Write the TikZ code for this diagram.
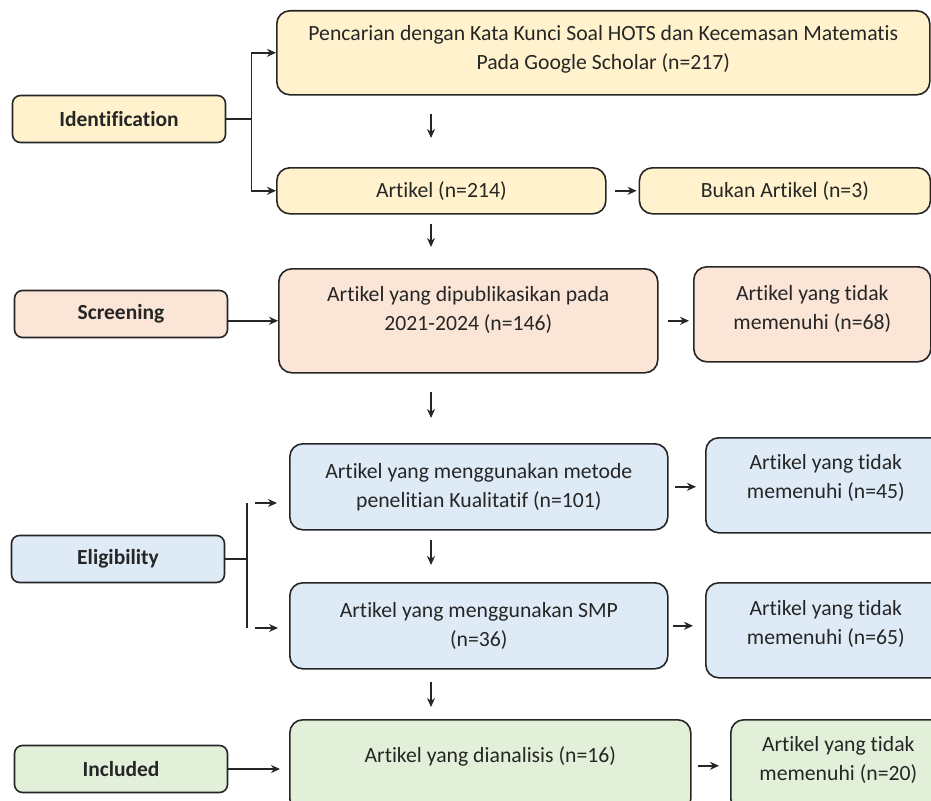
\documentclass[tikz,border=0pt]{standalone}
\usepackage{fontspec}
\setmainfont{Carlito}[Ligatures={NoCommon,NoRare}]
\usetikzlibrary{positioning,arrows.meta,calc}
\definecolor{edgegray}{HTML}{262626}
\definecolor{idyellow}{HTML}{FFF2CC}
\definecolor{scpeach}{HTML}{FBE5D6}
\definecolor{elblue}{HTML}{DEEBF7}
\definecolor{ingreen}{HTML}{E2F0D9}

\begin{document}
\begin{tikzpicture}
[
  x=1pt, y=-1pt,
  every node/.style={font=\fontsize{21.7}{29}\selectfont, text=edgegray},
  stage/.style={draw=edgegray, line width=1.6pt, rounded corners=8pt, fill=#1, minimum width=213pt, minimum height=47pt, inner sep=0pt, font=\fontsize{21.5}{29}\selectfont\bfseries},
  box/.style={draw=edgegray, line width=1.6pt, rounded corners=13pt, fill=#1, align=center, inner sep=0pt, anchor=north west},
  wh/.style 2 args={minimum width=#1pt, minimum height=#2pt},
  lift/.style={text depth=#1pt},
  arr/.style={-{Stealth[length=9pt,width=8pt]}, line width=1.5pt, draw=edgegray},
  link/.style={line width=1.5pt, draw=edgegray}
]
\useasboundingbox (0,0) rectangle (931,800);
\clip (0,0) rectangle (931,800);

% stages
\node (ident) [stage=idyellow] at (119,119) {Identification};
\node (screen) [stage=scpeach] at (121,314) {Screening};
\node (elig) [stage=elblue] at (118,559) {Eligibility};
\node (incl) [stage=ingreen] at (121,769) {Included};

% flow boxes
\node (search) [box=idyellow, wh={653}{84}, lift=10.5] at (276,10) {Pencarian dengan Kata Kunci Soal HOTS dan Kecemasan Matematis\\Pada Google Scholar (n=217)};
\node (art) [box=idyellow, wh={329}{46}] at (276,167) {Artikel (n=214)};
\node (nonart) [box=idyellow, wh={291}{46}, right=32pt of art] {Bukan Artikel (n=3)};
\node (pub) [box=scpeach, wh={379}{104}, lift=24.5] at (278,268) {Artikel yang dipublikasikan pada\\2021-2024 (n=146)};
\node (pubx) [box=scpeach, wh={237}{95}, lift=14.5] at (693,266) {Artikel yang tidak\\memenuhi (n=68)};
\node (qual) [box=elblue, wh={378}{86}] at (289,443) {Artikel yang menggunakan metode\\penelitian Kualitatif (n=101)};
\node (qualx) [box=elblue, wh={240}{95}, lift=18.5] at (705,437) {Artikel yang tidak\\memenuhi (n=45)};
\node (smp) [box=elblue, wh={378}{86}] at (289,582) {Artikel yang menggunakan SMP\\(n=36)};
\node (smpx) [box=elblue, wh={240}{95}, lift=15.5] at (705,582) {Artikel yang tidak\\memenuhi (n=65)};
\node (anal) [box=ingreen, wh={401}{92}, lift=22.5] at (289,719) {Artikel yang dianalisis (n=16)};
\node (analx) [box=ingreen, wh={215}{92}, lift=15.5] at (730,719) {Artikel yang tidak\\memenuhi (n=20)};

% identification fork
\draw [arr] (ident.east) -- ++(25,0) coordinate (idfork) |- (search.west);
\draw [arr] (idfork) |- (art.west);

% eligibility fork
\coordinate (elTop) at (247,503);
\coordinate (elBot) at (247,628);
\draw [link] (elig.east) -- (elig.east -| elTop) (elTop) -- (elBot);
\draw [arr, shorten <=8pt, shorten >=12pt] (elTop) -- (elTop -| qual.west);
\draw [arr, shorten <=8pt, shorten >=11pt] (elBot) -- (elBot -| smp.west);

\draw [arr] (pub.west -| screen.east) -- (pub.west);
\draw [arr, shorten >=9pt] (incl.east) -- (incl.east -| anal.west);

% down the column
\coordinate (col) at (431,0);
\foreach \a/\b/\s/\e in {search/art/18/29, art/pub/9/21, pub/qual/18/25, qual/smp/9/17, smp/anal/12/12}
  \draw [arr, shorten <=\s pt, shorten >=\e pt] (\a.south -| col) -- (\b.north -| col);

% to the excluded boxes
\foreach \a/\b/\s/\e in {art/nonart/8/2, pub/pubx/9/4, qual/qualx/6/9, smp/smpx/4/12, anal/analx/6/11}
  \draw [arr, shorten <=\s pt, shorten >=\e pt] (\a.east) -- (\a.east -| \b.west);
\end{tikzpicture}
\end{document}
